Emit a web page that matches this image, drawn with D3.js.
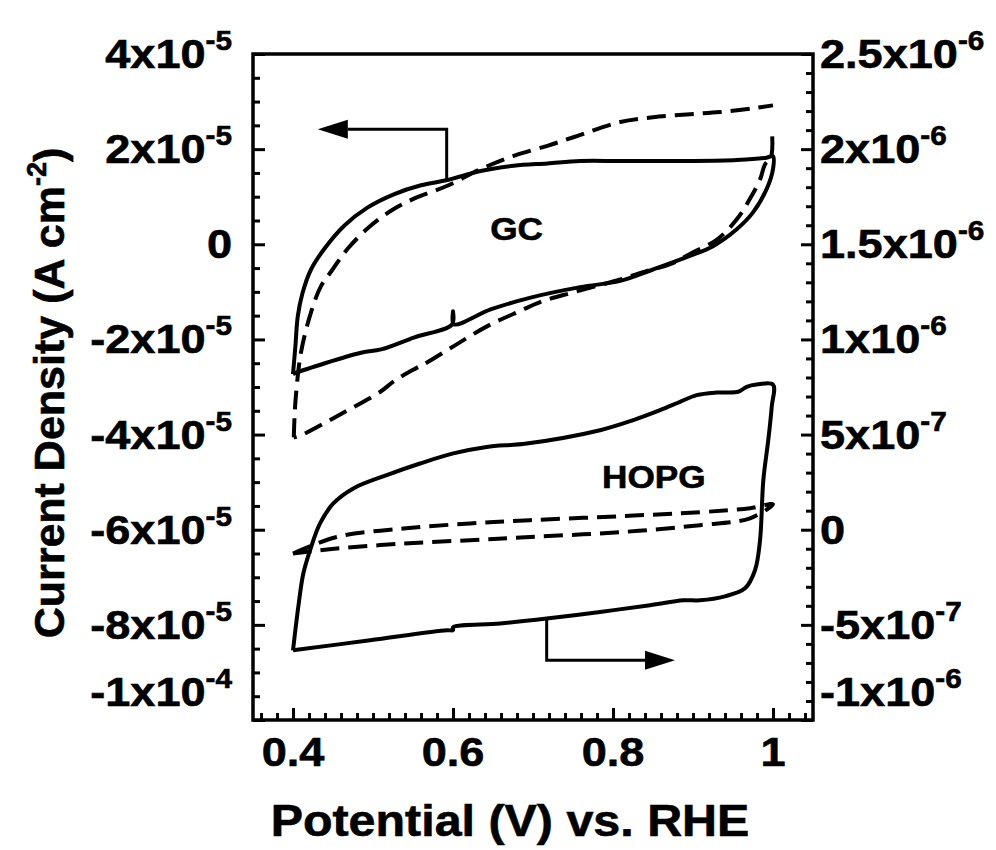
<!DOCTYPE html>
<html>
<head>
<meta charset="utf-8">
<script src="https://cdn.jsdelivr.net/npm/d3@7"></script>
<style>
  html, body { margin: 0; padding: 0; background: #fff; }
  svg { display: block; }
  text { font-family: "Liberation Sans", Arial, Helvetica, sans-serif; font-weight: bold; fill: #000; stroke: #000; stroke-width: 0.6px; }
</style>
</head>
<body>
<svg id="chart" width="996" height="850"></svg>
<script>
// ---- Axis ticks and labels ----
const potentialTicks = [0.4, 0.6, 0.8, 1.0];
const potentialTickLabels = ["0.4", "0.6", "0.8", "1"];
// left axis (GC), values in units of 1e-5 A cm^-2
const gcTicks = [-10, -8, -6, -4, -2, 0, 2, 4];
const gcTickLabels = [["-1", "-4"], ["-8", "-5"], ["-6", "-5"], ["-4", "-5"], ["-2", "-5"], ["0", ""], ["2", "-5"], ["4", "-5"]];
// right axis (HOPG), values in units of 1e-7 A cm^-2
const hopgTicks = [-10, -5, 0, 5, 10, 15, 20, 25];
const hopgTickLabels = [["-1", "-6"], ["-5", "-7"], ["0", ""], ["5", "-7"], ["1", "-6"], ["1.5", "-6"], ["2", "-6"], ["2.5", "-6"]];

// ---- GC voltammograms (left axis, 1e-5 A cm^-2) ----
const gcSolidV = [0.400, 0.403, 0.406, 0.412, 0.4225, 0.439, 0.464, 0.493, 0.526, 0.560, 0.593, 0.6345, 0.676, 0.718, 0.759, 0.809, 0.892, 0.955, 0.992, 1.000,
                  1.000, 0.992, 0.975, 0.955, 0.925, 0.892, 0.850, 0.809, 0.759, 0.697, 0.647, 0.601, 0.600, 0.599, 0.551, 0.510, 0.485, 0.404, 0.400];
const gcSolidI = [-2.73, -2.14, -1.51, -1.02, -0.53, -0.10, 0.39, 0.77, 1.05, 1.24, 1.35, 1.54, 1.65, 1.70, 1.75, 1.75, 1.75, 1.77, 1.82, 1.85,
                  1.58, 1.16, 0.67, 0.32, -0.04, -0.27, -0.53, -0.77, -0.90, -1.12, -1.37, -1.68, -1.41, -1.68, -1.96, -2.21, -2.28, -2.70, -2.73];

const gcDashV = [0.401, 0.402, 0.404, 0.410, 0.4225, 0.435, 0.4495, 0.468, 0.497, 0.526, 0.5555, 0.593, 0.6345, 0.676, 0.718, 0.7505, 0.809, 0.850, 0.892, 0.934, 0.975, 1.000,
                 NaN,
                 0.999, 0.9975, 0.990, 0.984, 0.971, 0.955, 0.930, 0.900, 0.8715, 0.8425, 0.809, 0.7505, 0.713, 0.684, 0.643, 0.601, 0.568, 0.551, 0.526, 0.510, 0.464, 0.408, 0.401];
const gcDashI = [-4.06, -3.60, -3.11, -2.27, -1.43, -0.88, -0.53, -0.10, 0.39, 0.74, 0.99, 1.23, 1.58, 1.86, 2.07, 2.25, 2.57, 2.67, 2.73, 2.78, 2.86, 2.92,
                 NaN,
                 2.27, 1.83, 1.68, 1.37, 0.95, 0.53, 0.10, -0.17, -0.42, -0.56, -0.74, -1.01, -1.19, -1.40, -1.72, -2.14, -2.48, -2.63, -2.88, -3.09, -3.53, -4.03, -4.06];

// ---- HOPG voltammograms (right axis, 1e-7 A cm^-2) ----
const hopgSolidV = [0.400, 0.4066, 0.4129, 0.4213, 0.4338, 0.4504, 0.4754, 0.5171, 0.5588, 0.6004, 0.6421, 0.6921, 0.7838, 0.8254, 0.8588, 0.8838, 0.9046, 0.9296, 0.9566, 0.9671, 0.9796, 1.000,
                    0.9984, 0.9941, 0.9879, 0.9838, 0.9775, 0.965, 0.940, 0.9088, 0.8879, 0.8463, 0.7838, 0.7171, 0.6588, 0.600, 0.600, 0.5921, 0.4963, 0.400];
const hopgSolidI = [-6.34, -4.06, -2.30, -1.08, 0.33, 1.38, 2.17, 2.87, 3.48, 4.01, 4.35, 4.53, 5.23, 5.76, 6.28, 6.72, 7.07, 7.21, 7.25, 7.51, 7.63, 7.63,
                    6.46, 4.71, 2.60, -0.55, -2.13, -3.08, -3.50, -3.71, -3.71, -3.97, -4.32, -4.67, -4.93, -5.13, -5.28, -5.28, -5.81, -6.34];

const hopgDashV = [0.400, 0.4546, 0.5379, 0.6213, 0.6963, 0.8088, 0.9088, 0.9713, 1.000,
                   0.9713, 0.9088, 0.8088, 0.6963, 0.6213, 0.5379, 0.4546, 0.400];
const hopgDashI = [-1.25, -0.38, 0.06, 0.33, 0.50, 0.71, 0.92, 1.13, 1.34,
                   0.60, 0.24, -0.13, -0.38, -0.55, -0.73, -0.99, -1.25];

// ---- Axis-assignment arrows (potential, current) ----
const gcArrowV = [0.5921, 0.5921, 0.431];
const gcArrowI = [1.35, 2.42, 2.42];
const hopgArrowV = [0.7171, 0.7171, 0.8775];
const hopgArrowI = [-4.67, -6.86, -6.86];

// ---- Layout ----
const svg = d3.select("#chart");
const margin = { left: 253, right: 813, top: 54, bottom: 720 };

const x = d3.scaleLinear().domain([0.35, 1.05]).range([margin.left, margin.right]);
const yGC = d3.scaleLinear().domain([-10, 4]).range([margin.bottom, margin.top]);
const yHOPG = d3.scaleLinear().domain([-10, 25]).range([margin.bottom, margin.top]);

const TEXT_SX = 1.1;   // horizontal widening of the bold lettering

// ---- Axes (ticks inward on all used sides) ----
const majorLen = 12, minorLen = 7;

const xMinor = d3.range(0.36, 1.041, 0.02).filter(v => !potentialTicks.some(t => Math.abs(t - v) < 1e-6));
const gAxes = svg.append("g");

function tickGroup(axis, tx, ty) {
  gAxes.append("g")
    .attr("transform", `translate(${tx},${ty})`)
    .call(axis)
    .call(g => g.select(".domain").remove())
    .call(g => g.selectAll(".tick line").attr("stroke", "#000").attr("stroke-width", 3));
}
tickGroup(d3.axisBottom(x).tickValues(potentialTicks).tickSize(-majorLen).tickFormat(""), 0, margin.bottom);
tickGroup(d3.axisBottom(x).tickValues(xMinor).tickSize(-minorLen).tickFormat(""), 0, margin.bottom);

const gcMinor = d3.range(-9.5, 4, 0.5).filter(v => !gcTicks.includes(v));
tickGroup(d3.axisLeft(yGC).tickValues(gcTicks).tickSize(-majorLen).tickFormat(""), margin.left, 0);
tickGroup(d3.axisLeft(yGC).tickValues(gcMinor).tickSize(-minorLen).tickFormat(""), margin.left, 0);

const hopgMinor = d3.range(-9, 25, 1).filter(v => !hopgTicks.includes(v));
tickGroup(d3.axisRight(yHOPG).tickValues(hopgTicks).tickSize(-majorLen).tickFormat(""), margin.right, 0);
tickGroup(d3.axisRight(yHOPG).tickValues(hopgMinor).tickSize(-minorLen).tickFormat(""), margin.right, 0);

// frame
svg.append("rect")
  .attr("x", margin.left).attr("y", margin.top)
  .attr("width", margin.right - margin.left).attr("height", margin.bottom - margin.top)
  .attr("fill", "none").attr("stroke", "#000").attr("stroke-width", 3.5);

// ---- Tick labels ----
const LABEL_SIZE = 41, SUP_SIZE = 27;
function powerLabel(g, mant, exp) {
  const t = g.append("text").attr("font-size", LABEL_SIZE);
  if (exp) {
    t.append("tspan").text(mant + "x10");
    t.append("tspan").attr("font-size", SUP_SIZE).attr("dy", -18).text(exp);
  } else {
    t.append("tspan").text(mant);
  }
  return t;
}

potentialTicks.forEach((v, i) => {
  svg.append("text")
    .attr("transform", `translate(${x(v)},766) scale(${TEXT_SX},1)`)
    .attr("text-anchor", "middle").attr("font-size", LABEL_SIZE)
    .text(potentialTickLabels[i]);
});

gcTicks.forEach((v, i) => {
  // the lowest label sits raised above the corner
  const yc = i === 0 ? yGC(v) - 28 : yGC(v);
  const g = svg.append("g").attr("transform", `translate(232,${yc + 14}) scale(${TEXT_SX},1)`);
  powerLabel(g, gcTickLabels[i][0], gcTickLabels[i][1]).attr("text-anchor", "end");
});

hopgTicks.forEach((v, i) => {
  const yc = i === 0 ? yHOPG(v) - 28 : yHOPG(v);
  const g = svg.append("g").attr("transform", `translate(820,${yc + 14}) scale(${TEXT_SX},1)`);
  powerLabel(g, hopgTickLabels[i][0], hopgTickLabels[i][1]).attr("text-anchor", "start");
});

// ---- Axis titles ----
svg.append("text")
  .attr("transform", `translate(510,836) scale(${TEXT_SX},1)`)
  .attr("text-anchor", "middle").attr("font-size", 44)
  .text("Potential (V) vs. RHE");

const yTitle = svg.append("text")
  .attr("transform", "translate(64,393) rotate(-90)")
  .attr("text-anchor", "middle").attr("font-size", 43);
yTitle.append("tspan").text("Current Density (A cm");
yTitle.append("tspan").attr("font-size", 27).attr("dy", -18).text("-2");
yTitle.append("tspan").attr("dy", 18).text(")");

// ---- Curves ----
const zip = (vs, is) => vs.map((v, k) => [v, is[k]]);
const smooth = d3.curveCatmullRom.alpha(0.5);
const lineGC = d3.line().defined(d => !isNaN(d[0])).x(d => x(d[0])).y(d => yGC(d[1])).curve(smooth);
const lineHOPG = d3.line().defined(d => !isNaN(d[0])).x(d => x(d[0])).y(d => yHOPG(d[1])).curve(smooth);

const curves = svg.append("g").attr("fill", "none").attr("stroke", "#000")
  .attr("stroke-width", 4).attr("stroke-linejoin", "round");

curves.append("path").attr("d", lineGC(zip(gcSolidV, gcSolidI)));
curves.append("path").attr("d", lineGC(zip(gcDashV, gcDashI))).attr("stroke-dasharray", "19 9");
curves.append("path").attr("d", lineHOPG(zip(hopgSolidV, hopgSolidI)));
curves.append("path").attr("d", lineHOPG(zip(hopgDashV, hopgDashI))).attr("stroke-dasharray", "19 9");

// ---- Arrows pointing each pair of curves to its axis ----
function arrow(pts) {
  const a = pts[pts.length - 2], b = pts[pts.length - 1];
  const ang = Math.atan2(b[1] - a[1], b[0] - a[0]);
  const headLen = 30, headHalf = 9.5;
  const base = [b[0] - headLen * Math.cos(ang), b[1] - headLen * Math.sin(ang)];
  const shaft = pts.slice(0, -1).concat([base]);
  svg.append("path").attr("d", d3.line()(shaft))
    .attr("fill", "none").attr("stroke", "#000").attr("stroke-width", 3);
  const nx = -Math.sin(ang), ny = Math.cos(ang);
  svg.append("path")
    .attr("d", d3.line()([b, [base[0] + nx * headHalf, base[1] + ny * headHalf], [base[0] - nx * headHalf, base[1] - ny * headHalf]]) + "Z")
    .attr("fill", "#000");
}
arrow(gcArrowV.map((v, k) => [x(v), yGC(gcArrowI[k])]));
arrow(hopgArrowV.map((v, k) => [x(v), yHOPG(hopgArrowI[k])]));

// ---- Curve labels ----
svg.append("text")
  .attr("transform", `translate(${x(0.6465)},${yGC(0.1)}) scale(${TEXT_SX},1)`)
  .attr("font-size", 32).text("GC");
svg.append("text")
  .attr("transform", `translate(${x(0.7863)},${yHOPG(2.2)}) scale(${TEXT_SX},1)`)
  .attr("font-size", 32).text("HOPG");
</script>
</body>
</html>
